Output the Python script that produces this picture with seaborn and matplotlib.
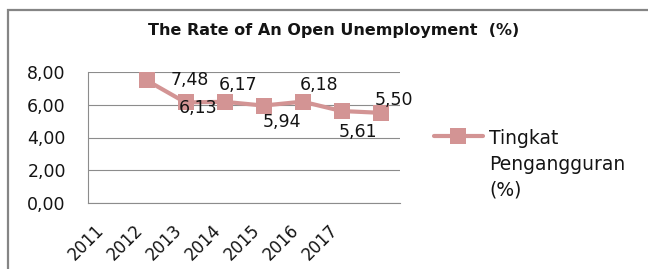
import numpy as np
import pandas as pd
import matplotlib
matplotlib.use("Agg")
import matplotlib.pyplot as plt
import seaborn as sns
from matplotlib.patches import Rectangle
from matplotlib.ticker import FuncFormatter

years = ['2011', '2012', '2013', '2014', '2015', '2016', '2017']
rates = [7.48, 6.13, 6.17, 5.94, 6.18, 5.61, 5.50]
series_name = 'Tingkat\nPengangguran\n(%)'
title = 'The Rate of An Open Unemployment  (%)'

# label offsets in points (dx, dy) as placed in the original sheet
label_offsets = [(31, 0), (9, -4), (10, 12), (13, -12), (12, 12), (12, -15), (10, 9)]

sns.set_style('white')
plt.rcParams['font.family'] = ['DejaVu Sans']

color = '#D39494'
grid_c = '#8c8c8c'
text_c = '#141414'

# the sheet plots the points one category to the right of their year labels
df = pd.DataFrame({'slot': np.arange(1, len(rates) + 1), 'rate': rates})

fig = plt.figure(figsize=(6.48, 2.69), dpi=100)
ax = fig.add_axes([88 / 648, 1 - 203.3 / 269, (400 - 88) / 648, (203.3 - 71.7) / 269])

sns.lineplot(data=df, x='slot', y='rate', ax=ax, color=color, lw=3,
             marker='s', markersize=11, markeredgewidth=0, label=series_name)

for (x, y), (dx, dy) in zip(zip(df['slot'], df['rate']), label_offsets):
    ax.annotate(f'{y:.2f}'.replace('.', ','), (x, y), xytext=(dx, dy),
                textcoords='offset points', ha='center', va='center',
                fontsize=12.5, color=text_c)

ax.set_xlim(-0.5, len(years) + 0.5)
ax.set_ylim(0, 8)
ax.set_yticks([0, 2, 4, 6, 8])
ax.yaxis.set_major_formatter(FuncFormatter(lambda v, p: f'{v:.2f}'.replace('.', ',')))
ax.set_xticks(range(len(years)))
ax.set_xticklabels(years, rotation=45, ha='right')
ax.tick_params(axis='x', length=0, pad=13, labelsize=12, labelcolor=text_c)
ax.tick_params(axis='y', length=0, pad=16, labelsize=12.5, labelcolor=text_c)
ax.set_xlabel('')
ax.set_ylabel('')

ax.grid(axis='y', color=grid_c, lw=0.8)
ax.grid(axis='x', visible=False)
for s in ['top', 'right']:
    ax.spines[s].set_visible(False)
for s in ['left', 'bottom']:
    ax.spines[s].set_color(grid_c)
    ax.spines[s].set_linewidth(0.8)

leg = ax.legend(loc='upper left', bbox_to_anchor=(434 / 648, 1 - 129 / 269),
                bbox_transform=fig.transFigure, frameon=False, fontsize=13.5,
                handlelength=2.6, handletextpad=0.35, borderpad=0, borderaxespad=0,
                handleheight=1.0)
for t in leg.get_texts():
    t.set_linespacing(1.45)
    t.set_color(text_c)
# put the marker beside the first line of the label, like the sheet does
for col in leg._legend_handle_box.get_children():
    for row in col.get_children():
        row.align = 'top'

fig.text(334 / 648, 1 - 30 / 269, title, ha='center', va='center',
         fontsize=11.5, fontweight='bold', color=text_c)

fig.add_artist(Rectangle((7.5 / 648, -0.2), 1.2, 1.2 - 9.5 / 269,
                         transform=fig.transFigure, fill=False,
                         ec='#858585', lw=1.6))

fig.savefig('out.png', dpi=100)
